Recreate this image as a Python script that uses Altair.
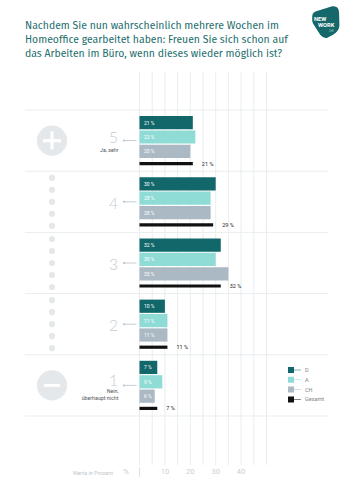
import altair as alt
import pandas as pd

# ---------------- data ----------------
answers = ["5", "4", "3", "2", "1"]
val_D = [21, 30, 32, 10, 7]
val_A = [22, 28, 30, 11, 9]
val_CH = [20, 28, 35, 11, 6]
val_total = [21, 29, 32, 11, 7]
series = ["D", "A", "CH", "Gesamt"]
colors = ["#12676a", "#8fdcd7", "#aab9c4", "#111111"]
axis_ticks = [10, 20, 30, 40]
grid_vals = [0, 5, 10, 15, 20, 25, 30, 35, 40, 45, 50]
notes = {"5": "Ja, sehr", "1": "Nein,\nüberhaupt nicht"}
title_text = ("Nachdem Sie nun wahrscheinlich mehrere Wochen im\n"
              "Homeoffice gearbeitet haben: Freuen Sie sich schon auf\n"
              "das Arbeiten im Büro, wenn dieses wieder möglich ist?")
axis_caption = "Werte in Prozent"

FONT = "Roboto"

rows = []
for i, a in enumerate(answers):
    for s, vals in zip(series, [val_D, val_A, val_CH, val_total]):
        rows.append({"answer": a, "series": s, "value": vals[i], "label": f"{vals[i]} %"})
df = pd.DataFrame(rows)
df_bars = df[df.series != "Gesamt"]
df_tot = df[df.series == "Gesamt"]

df_ans = pd.DataFrame({"answer": answers,
                       "note": [notes.get(a, "") for a in answers],
                       "has_note": [1 if a in notes else 0 for a in answers]})

x_scale = alt.Scale(domain=[-54.92, 84.06], nice=False, zero=False)
y_scale = alt.Scale(domain=answers, range=[110, 416], paddingInner=0, paddingOuter=0)
X = lambda f: alt.X(f, scale=x_scale, axis=None)
Y = lambda **kw: alt.Y("answer:N", scale=y_scale, axis=None, **kw)

color = alt.Color("series:N", scale=alt.Scale(domain=series, range=colors),
                  legend=alt.Legend(title=None, orient="none", legendX=288, legendY=367,
                                    symbolType="M-1,-1H1V1H-1ZM1,-0.09H3.3V0.09H1Z",
                                    symbolSize=36, symbolStrokeWidth=0, symbolOpacity=1,
                                    labelFontSize=5.5, labelColor="#7d858b", labelFont=FONT,
                                    labelOffset=11, rowPadding=2.8))

# grid
grid = alt.Chart(pd.DataFrame({"g": grid_vals})).mark_rule(color="#e2e9ed", strokeWidth=0.8).encode(
    x=X("g:Q"), y=alt.value(72), y2=alt.value(465))

# separators
sep_top = alt.Chart(df_ans).mark_rule(color="#e9edef", strokeWidth=1).encode(
    y=Y(bandPosition=0), x=alt.value(25), x2=alt.value(328))
sep_bot = alt.Chart(df_ans[df_ans.answer == answers[-1]]).mark_rule(color="#e9edef", strokeWidth=1).encode(
    y=Y(bandPosition=1), x=alt.value(25), x2=alt.value(328))

# bars
yoff = alt.YOffset("series:N", scale=alt.Scale(domain=series[:3], range=[6, 48],
                                                paddingInner=0.08, paddingOuter=0))
bars = alt.Chart(df_bars).mark_bar().encode(
    x=X("value:Q"), x2=alt.datum(0), y=Y(), yOffset=yoff, color=color)
bar_labels = alt.Chart(df_bars).mark_text(align="left", baseline="middle", fontSize=5,
                                          color="white", font=FONT).encode(
    x=alt.value(144), y=Y(), yOffset=yoff, text="label:N")

tot = alt.Chart(df_tot).mark_bar(size=3.2, yOffset=23).encode(
    x=X("value:Q"), x2=alt.datum(0), y=Y(), color=color)
tot_labels = alt.Chart(df_tot).mark_text(align="left", baseline="middle", fontSize=5.5,
                                         color="#222", font=FONT, dx=9, yOffset=23).encode(
    x=X("value:Q"), y=Y(), text="label:N")

# left decorations
big = alt.Chart(df_ans[df_ans.has_note == 1]).mark_point(
    filled=True, shape="circle", size=910, color="#e4e8eb", opacity=1).encode(
    x=alt.value(52), y=Y())
plus = alt.Chart(df_ans[df_ans.answer == answers[0]]).mark_point(
    filled=True, size=324, color="white", opacity=1,
    shape="M-1,-0.17H1V0.17H-1ZM-0.17,-1H0.17V1H-0.17Z").encode(x=alt.value(52), y=Y())
minus = alt.Chart(df_ans[df_ans.answer == answers[-1]]).mark_point(
    filled=True, size=256, color="white", opacity=1,
    shape="M-1,-0.19H1V0.19H-1Z").encode(x=alt.value(52), y=Y())

dot_rows = [{"answer": a, "k": k} for a in answers if a not in notes for k in [-2, -1, 0, 1, 2]]
dots = alt.Chart(pd.DataFrame(dot_rows)).mark_point(
    filled=True, shape="circle", size=38, color="#e4e8eb", opacity=1,
    yOffset=alt.expr("datum.k * 12")).encode(x=alt.value(52), y=Y())

numbers = alt.Chart(df_ans).mark_text(
    align="right", baseline="middle", fontSize=15.5, font="Lato", fontWeight=300,
    color="#c4cbd1", yOffset=alt.expr("datum.answer == '1' ? -4.5 : (datum.has_note ? -2.5 : 2)")).encode(
    x=alt.value(118), y=Y(), text="answer:N")
note_text = alt.Chart(df_ans[df_ans.has_note == 1]).mark_text(
    align="right", baseline="top", fontSize=5.3, font=FONT, color="#555", lineBreak="\n",
    lineHeight=6.8, yOffset=alt.expr("datum.answer == '1' ? 3.5 : 7")).encode(
    x=alt.value(118.5), y=Y(), text="note:N")
arrow = alt.Chart(df_ans).mark_rule(color="#b8c0c6", strokeWidth=0.8).encode(
    x=alt.value(124), x2=alt.value(136.5), y=Y())
arrow_dot = alt.Chart(df_ans).mark_point(filled=True, size=4, color="#b8c0c6", opacity=1).encode(
    x=alt.value(124), y=Y())

# title
title = alt.Chart(pd.DataFrame({"t": [title_text]})).mark_text(
    align="left", baseline="top", fontSize=10.45, font="Fira Sans, " + FONT, color="#1d6d6c",
    lineBreak="\n", lineHeight=14).encode(x=alt.value(25), y=alt.value(20.5), text="t:N")

# logo
logo_bg = alt.Chart(pd.DataFrame({"l": [1]})).mark_point(
    filled=True, size=1024, color="#16676a", opacity=1,
    shape="M-0.8,-0.35Q-0.8,-0.6 -0.5,-0.68L0.45,-0.98Q0.85,-1.05 0.88,-0.6L0.9,0.25Q0.85,0.6 0.5,0.8L0.15,0.98Q-0.1,1.05 -0.3,0.8L-0.75,0.1Q-0.82,-0.05 -0.8,-0.35Z"
).encode(x=alt.value(325), y=alt.value(22))
logo_new = alt.Chart(pd.DataFrame({"t": ["NEW"]})).mark_text(
    align="left", baseline="middle", fontSize=5.8, fontWeight="bold", font=FONT, color="white").encode(
    x=alt.value(314), y=alt.value(18.8), text="t:N")
logo_work = alt.Chart(pd.DataFrame({"t": ["WORK"]})).mark_text(
    align="left", baseline="middle", fontSize=5.8, fontWeight="bold", font=FONT, color="white").encode(
    x=alt.value(318), y=alt.value(25), text="t:N")
logo_se = alt.Chart(pd.DataFrame({"t": ["SE"]})).mark_text(
    align="left", baseline="middle", fontSize=4, font=FONT, color="#8fc9c6").encode(
    x=alt.value(329), y=alt.value(30.8), text="t:N")

# footer axis
tick_labels = alt.Chart(pd.DataFrame({"v": axis_ticks})).mark_text(
    align="center", baseline="middle", fontSize=7.5, font=FONT, color="#c9cfd4").encode(
    x=X("v:Q"), y=alt.value(472), text="v:Q")
zero_mark = alt.Chart(pd.DataFrame({"v": [0]})).mark_rule(color="#d5dbdf", strokeWidth=0.8).encode(
    x=X("v:Q"), y=alt.value(467), y2=alt.value(477))
pct = alt.Chart(pd.DataFrame({"t": ["%"]})).mark_text(
    align="center", baseline="middle", fontSize=8, font=FONT, color="#c9cfd4").encode(
    x=alt.value(126), y=alt.value(472), text="t:N")
caption = alt.Chart(pd.DataFrame({"t": [axis_caption]})).mark_text(
    align="right", baseline="middle", fontSize=5.5, font=FONT, color="#c2c8cd").encode(
    x=alt.value(113), y=alt.value(472.5), text="t:N")

chart = alt.layer(
    grid, sep_top, sep_bot, big, plus, minus, dots, numbers, note_text, arrow, arrow_dot,
    bars, bar_labels, tot, tot_labels, title, logo_bg, logo_new, logo_work, logo_se,
    tick_labels, zero_mark, pct, caption
).properties(
    width=353, height=500, autosize=alt.AutoSizeParams(type="none"), padding=0,
    background="white"
).configure_view(stroke=None)

chart.save("out.html", embed_options={"renderer": "svg", "actions": False})
